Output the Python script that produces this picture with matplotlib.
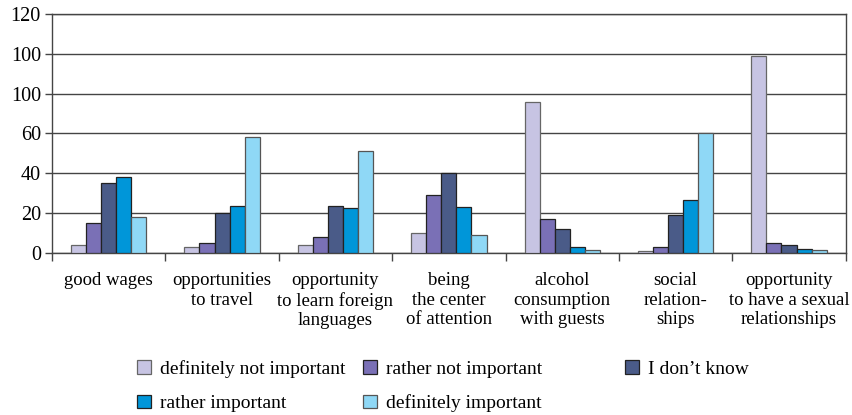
import matplotlib.pyplot as plt
import numpy as np
from matplotlib.patches import Patch

plt.rcParams['font.family'] = ['Liberation Serif', 'DejaVu Serif']

categories = [
    "good wages",
    "opportunities\nto travel",
    "opportunity\nto learn foreign\nlanguages",
    "being\nthe center\nof attention",
    "alcohol\nconsumption\nwith guests",
    "social\nrelation-\nships",
    "opportunity\nto have a sexual\nrelationships",
]
series_names = [
    "definitely not important",
    "rather not important",
    "I don\u2019t know",
    "rather important",
    "definitely important",
]
definitely_not = [4, 3, 4, 10, 76, 1, 99]
rather_not = [15, 5, 8, 29, 17, 3, 5]
dont_know = [35, 20, 23.5, 40, 12, 19, 3.7]
rather_imp = [38, 23.3, 22.7, 23, 3, 26.5, 2]
definitely_imp = [18, 58, 51, 9, 1.6, 60, 1.2]
y_ticks = [0, 20, 40, 60, 80, 100, 120]
y_tick_labels = ["0", "20", "40", "60", "100", "100", "120"]

colors = ["#C7C4E3", "#7A70B6", "#4A5B88", "#0096D9", "#8FD8F6"]
edges = ["#666666", "#222222", "#222222", "#222222", "#555555"]
values = [definitely_not, rather_not, dont_know, rather_imp, definitely_imp]

fig = plt.figure(figsize=(8.53, 4.15), dpi=100)
ax = fig.add_axes([0.061, 0.391, 0.9304, 0.575])

x = np.arange(len(categories))
w = 0.133
for i, (vals, c, ec) in enumerate(zip(values, colors, edges)):
    ax.bar(x + (i - 2) * w, vals, w, color=c, edgecolor=ec, linewidth=0.9,
           label=series_names[i], zorder=3)

ax.set_xlim(-0.5, len(categories) - 0.5)
ax.set_ylim(0, 120)
ax.set_yticks(y_ticks)
ax.set_yticklabels(y_tick_labels, fontsize=14.5)
ax.yaxis.grid(True, color="#444444", linewidth=1.0, zorder=0)

# tick marks at group boundaries, labels at group centres
ax.set_xticks(np.arange(-0.5, len(categories)), labels=[""] * (len(categories) + 1))
ax.set_xticks(x, labels=categories, minor=True)
ax.tick_params(axis="x", which="major", length=6, width=1.0, color="#444444", direction="out")
ax.tick_params(axis="x", which="minor", length=0, pad=14, labelsize=13.5)
ax.tick_params(axis="y", length=5, width=1.0, color="#444444", pad=3)
for lab in ax.get_xticklabels(minor=True):
    lab.set_verticalalignment("top")
    lab.set_linespacing(1.2)

for sp in ax.spines.values():
    sp.set_color("#444444")
    sp.set_linewidth(1.0)

# legend: three columns placed separately, entries read row by row
handles = [Patch(facecolor=c, edgecolor=ec, linewidth=0.9) for c, ec in zip(colors, edges)]
col_x = [0.161, 0.426, 0.733]
cols = [[0, 3], [1, 4], [2]]
for cx, idx in zip(col_x, cols):
    fig.legend([handles[i] for i in idx], [series_names[i] for i in idx],
               loc="upper left", bbox_to_anchor=(cx, 0.132),
               frameon=False, fontsize=14, handlelength=0.7, handleheight=0.7,
               handletextpad=0.45, labelspacing=0.85, borderaxespad=0, borderpad=0)

fig.savefig("out.png", dpi=100)
